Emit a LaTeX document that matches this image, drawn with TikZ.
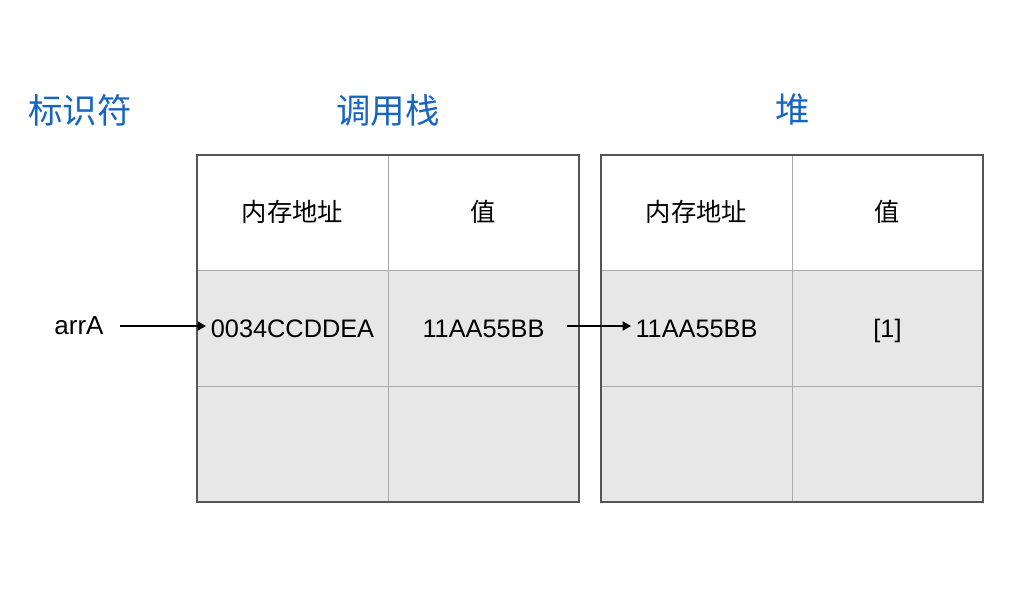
\documentclass[tikz,border=0pt]{standalone}
\usepackage{fontspec}
\setmainfont{Liberation Sans}
\newfontfamily\cjk{Noto Sans CJK SC}
\usetikzlibrary{arrows.meta, positioning}
\definecolor{titleblue}{RGB}{22,101,192}
\definecolor{rowfill}{RGB}{231,231,231}
\definecolor{gridline}{RGB}{170,170,170}
\definecolor{frameline}{RGB}{85,85,85}
\tikzset{
    cell/.style={
        rectangle, draw=gridline, fill=white, inner sep=0pt,
        minimum width=4.775cm, minimum height=2.89cm,
        text height=13pt, text depth=0pt,
        text centered, font=\fontsize{18}{20}\selectfont
    },
    headcell/.style={cell, font=\cjk\fontsize{18}{20}\selectfont},
    datacell/.style={cell, fill=rowfill},
    title/.style={font=\cjk\fontsize{24.5}{28}\selectfont, text=titleblue},
    frame/.style={draw=frameline, line width=1.4pt},
    pointer/.style={draw=black, line width=1.2pt, -{Triangle[length=6pt, width=6.5pt]}},
    label/.style={font=\fontsize{18.5}{20}\selectfont}
}
\begin{document}
\begin{tikzpicture}[x=0.025cm, y=-0.025cm]
    \useasboundingbox (0,0) rectangle (1010,588);

    % Titles
    \node[title] (idtitle) at (80,110) {标识符};
    \node[title] (stacktitle) at (388,110) {调用栈};
    \node[title] (heaptitle) at (793,110) {堆};

    % Call stack table
    \node[headcell] (stackaddrh) at (292.5,212.8) {内存地址};
    \node[headcell] (stackvalh) at (483.5,212.8) {值};
    \node[datacell] (stackaddr1) at (292.5,328.5) {0034CCDDEA};
    \node[datacell] (stackval1) at (483.5,328.5) {11AA55BB};
    \node[datacell] (stackaddr2) at (292.5,444.2) {};
    \node[datacell] (stackval2) at (483.5,444.2) {};
    \draw[frame] (stackaddrh.north west) rectangle (stackval2.south east);

    % Heap table
    \node[headcell] (heapaddrh) at (696.5,212.8) {内存地址};
    \node[headcell] (heapvalh) at (887.5,212.8) {值};
    \node[datacell] (heapaddr1) at (696.5,328.5) {11AA55BB};
    \node[datacell] (heapval1) at (887.5,328.5) {[1]};
    \node[datacell] (heapaddr2) at (696.5,444.2) {};
    \node[datacell] (heapval2) at (887.5,444.2) {};
    \draw[frame] (heapaddrh.north west) rectangle (heapval2.south east);

    % Identifier and pointers
    \node[label] (arra) at (79,326) {arrA};
    \coordinate (arrastart) at (120,326);
    \coordinate (stackin) at (206,326);
    \coordinate (stackout) at (567,326);
    \coordinate (heapin) at (631,326);
    \draw[pointer] (arrastart) -- (stackin);
    \draw[pointer] (stackout) -- (heapin);
\end{tikzpicture}
\end{document}
